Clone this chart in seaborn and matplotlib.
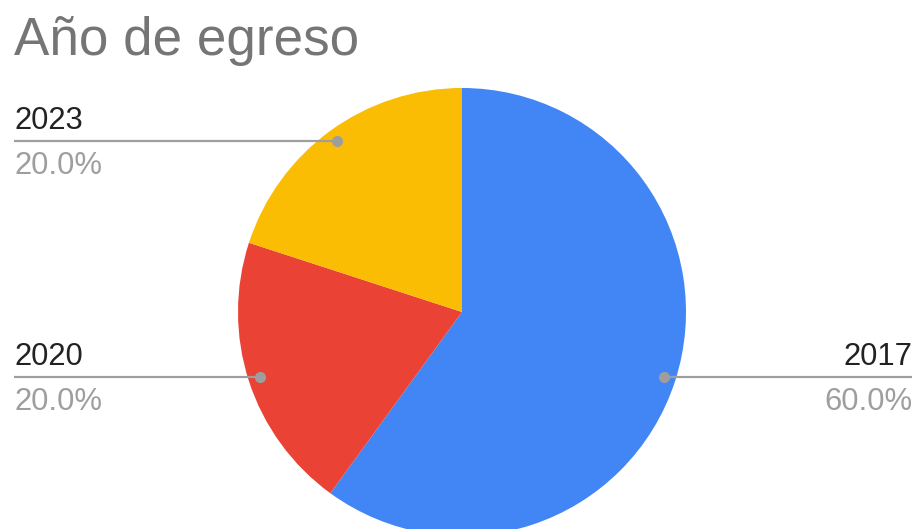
import numpy as np
import matplotlib
matplotlib.use("Agg")
import matplotlib.pyplot as plt
import seaborn as sns

# ---- data ----
categories = ["2017", "2020", "2023"]
values = [60, 20, 20]
colors = ["#4285F4", "#EA4335", "#FBBC04"]
title = "Año de egreso"

sns.set_theme(style="white")
plt.rcParams["font.family"] = ["Liberation Sans", "DejaVu Sans"]

W, H = 914, 529
fig = plt.figure(figsize=(W / 100, H / 100), dpi=100)
ax = fig.add_axes([0, 0, 1, 1])
ax.set_xlim(0, W)
ax.set_ylim(0, H)
ax.set_aspect("equal")
ax.axis("off")

cx, cy, r = 462, H - 312, 224
ax.pie(values, colors=colors, startangle=90, counterclock=False,
       center=(cx, cy), radius=r, frame=True,
       wedgeprops=dict(linewidth=0))
ax.set_xlim(0, W)
ax.set_ylim(0, H)
ax.axis("off")

total = sum(values)
fs = 31 * 72 / 100
cum = 0
for cat, v in zip(categories, values):
    mid = 90 - (cum + v / 2) / total * 360
    cum += v
    a = np.deg2rad(mid)
    dx_, dy_ = cx + 0.946 * r * np.cos(a), cy + 0.946 * r * np.sin(a)
    right = np.cos(a) > 0
    xend = 912 if right else 14
    ax.plot([dx_, xend], [dy_, dy_], color="#9E9E9E", lw=1.6, solid_capstyle="butt", zorder=3)
    ax.plot([dx_], [dy_], "o", color="#9E9E9E", ms=7, zorder=4)
    ha = "right" if right else "left"
    ax.text(xend, dy_ + 12, cat, ha=ha, va="baseline", fontsize=fs, color="#222222")
    ax.text(xend, dy_ - 10, f"{v / total * 100:.1f}%", ha=ha, va="top",
            fontsize=fs, color="#9E9E9E")

fig.text(14 / W, 1 - 55 / H, title, ha="left", va="baseline",
         fontsize=53 * 72 / 100, color="#757575")

fig.savefig("out.png", dpi=100)
